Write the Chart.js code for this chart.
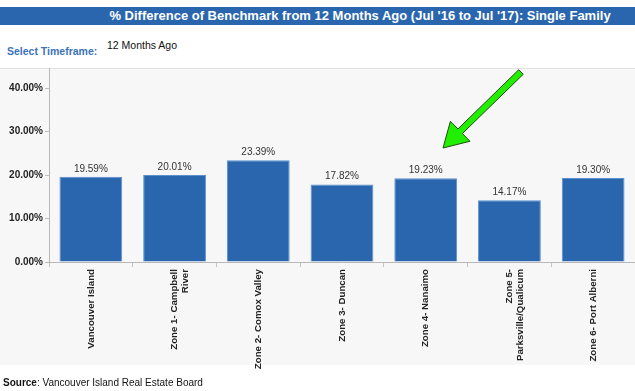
<!DOCTYPE html>
<html>
<head>
    <title>% Difference of Benchmark - Single Family</title>
    <script src="https://cdn.jsdelivr.net/npm/chart.js@4/dist/chart.umd.min.js"></script>
    <style>
        body { margin: 0; width: 635px; height: 391px; position: relative; overflow: hidden; background: #fff; font-family: 'Liberation Sans', Arial, sans-serif; }
        .title-bar { position: absolute; left: 0; top: 7px; width: 635px; height: 18px; background: #2a66ae; }
        .title-bar h1 { position: absolute; left: 85px; width: 550px; top: 0; margin: 0; text-align: center; color: #fff; font-size: 13px; font-weight: bold; line-height: 18px; }
        .timeframe-label { position: absolute; left: 7px; top: 45px; color: #3b73b9; font-size: 10.5px; font-weight: bold; }
        .timeframe-value { position: absolute; left: 107px; top: 39px; color: #111; font-size: 10.5px; }
        .panel { position: absolute; left: 0; top: 68px; width: 635px; height: 297px; background: #f7f7f7; border-top: 1px solid #e2e2e2; box-sizing: border-box; }
        #benchChart { position: absolute; left: 0; top: 0; }
        .source { position: absolute; left: 3px; top: 377px; font-size: 10px; color: #111; }
    </style>
</head>
<body>
    <div class="title-bar"><h1>% Difference of Benchmark from 12 Months Ago (Jul '16 to Jul '17): Single Family</h1></div>
    <div class="timeframe-label">Select Timeframe:</div>
    <div class="timeframe-value">12 Months Ago</div>
    <div class="panel"></div>
    <canvas id="benchChart" width="635" height="391"></canvas>
    <div class="source"><b>Source</b>: Vancouver Island Real Estate Board</div>

    <script>
        // chart data
        const regions = [
            'Vancouver Island',
            ['Zone 1- Campbell', 'River'],
            'Zone 2- Comox Valley',
            'Zone 3- Duncan',
            'Zone 4- Nanaimo',
            ['Zone 5-', 'Parksville/Qualicum'],
            'Zone 6- Port Alberni'
        ];
        const pctChange = [19.59, 20.01, 23.39, 17.82, 19.23, 14.17, 19.30];
        const yTicks = [0, 10, 20, 30, 40];

        const font = "'Liberation Sans', Arial, sans-serif";

        // value labels above bars
        const barValues = {
            id: 'barValues',
            afterDatasetsDraw(chart) {
                const ctx = chart.ctx;
                const meta = chart.getDatasetMeta(0);
                ctx.save();
                ctx.font = '10px ' + font;
                ctx.fillStyle = '#333';
                ctx.textAlign = 'center';
                ctx.textBaseline = 'bottom';
                meta.data.forEach(function(bar, i) {
                    ctx.fillText(pctChange[i].toFixed(2) + '%', bar.x, bar.y - 3);
                });
                ctx.restore();
            }
        };

        // green arrow pasted on the screenshot
        const greenArrow = {
            id: 'greenArrow',
            afterDraw(chart) {
                const ctx = chart.ctx;
                const tail = [521, 72], tip = [443, 148];
                const dx = tip[0] - tail[0], dy = tip[1] - tail[1];
                const len = Math.hypot(dx, dy);
                const ux = dx / len, uy = dy / len;
                const nx = -uy, ny = ux;
                const headLen = 24, headW = 14, shaftW = 3.2;
                const bx = tip[0] - ux * headLen, by = tip[1] - uy * headLen;
                ctx.save();
                ctx.beginPath();
                ctx.moveTo(tail[0] + nx * shaftW, tail[1] + ny * shaftW);
                ctx.lineTo(bx + nx * shaftW, by + ny * shaftW);
                ctx.lineTo(bx + nx * headW, by + ny * headW);
                ctx.lineTo(tip[0], tip[1]);
                ctx.lineTo(bx - nx * headW, by - ny * headW);
                ctx.lineTo(bx - nx * shaftW, by - ny * shaftW);
                ctx.lineTo(tail[0] - nx * shaftW, tail[1] - ny * shaftW);
                ctx.closePath();
                ctx.fillStyle = '#22ee00';
                ctx.fill();
                ctx.strokeStyle = '#1d4d12';
                ctx.lineWidth = 1;
                ctx.stroke();
                ctx.restore();
            }
        };

        const ctx = document.getElementById('benchChart').getContext('2d');
        const benchChart = new Chart(ctx, {
            type: 'bar',
            data: {
                labels: regions,
                datasets: [{
                    data: pctChange,
                    backgroundColor: '#2966ad',
                    borderColor: '#5b8fd0',
                    borderWidth: 1,
                    categoryPercentage: 1,
                    barPercentage: 0.75
                }]
            },
            options: {
                responsive: false,
                animation: false,
                devicePixelRatio: 1,
                layout: { padding: { top: 68, left: 0, right: 0, bottom: 0 } },
                plugins: {
                    legend: { display: false },
                    tooltip: { enabled: false }
                },
                scales: {
                    x: {
                        grid: { drawOnChartArea: false, tickLength: 5, color: '#c4c4c4', offset: true },
                        border: { color: '#b8b8b8' },
                        ticks: {
                            minRotation: 90,
                            maxRotation: 90,
                            autoSkip: false,
                            padding: 2,
                            color: '#222',
                            font: { family: font, size: 9.7, weight: 'bold', lineHeight: 1.1 }
                        },
                        afterFit(scale) { scale.height = 129; }
                    },
                    y: {
                        min: 0,
                        max: 44.6,
                        afterBuildTicks(scale) {
                            scale.ticks = yTicks.map(v => ({ value: v }));
                        },
                        grid: { drawOnChartArea: false, tickLength: 4, color: '#bbb' },
                        border: { color: '#b8b8b8' },
                        ticks: {
                            padding: 2,
                            color: '#222',
                            font: { family: font, size: 10, weight: 'bold' },
                            callback: v => v.toFixed(2) + '%'
                        },
                        afterFit(scale) { scale.width = 49; }
                    }
                }
            },
            plugins: [barValues, greenArrow]
        });
    </script>
</body>
</html>
